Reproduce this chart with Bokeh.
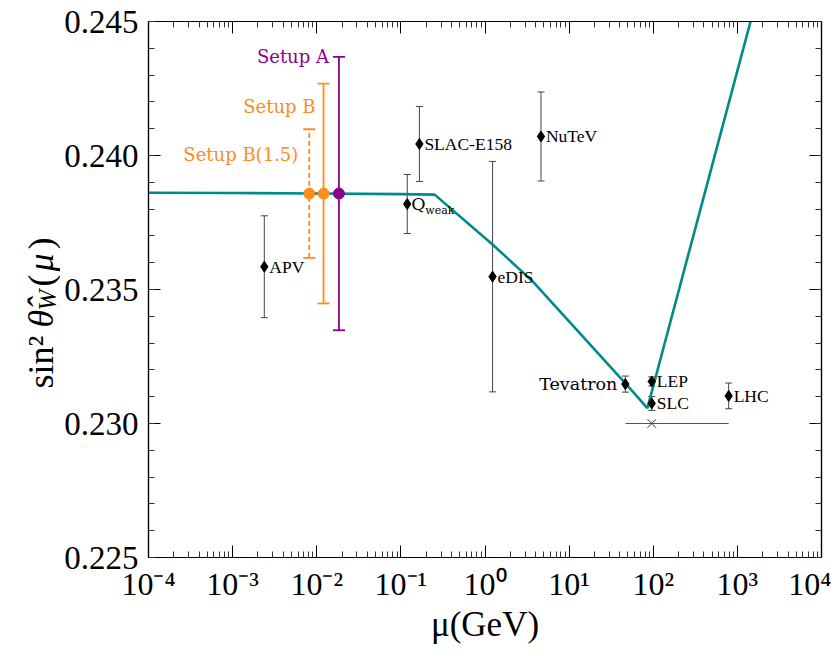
import math
from bokeh.plotting import figure
from bokeh.layouts import row
from bokeh.models import (ColumnDataSource, Whisker, LabelSet, Label, LogAxis, LinearAxis,
                          FixedTicker, PrintfTickFormatter, CustomJSTickFormatter, TeeHead, Range1d)
from bokeh.embed import file_html
from bokeh.resources import INLINE

# ---------------- data ----------------
# running weak mixing angle (MSbar) curve
curve_mu = [1e-4, 1e-3, 1e-2, 0.1, 0.252, 1.21, 3.78, 53.5, 85.1, 558.0, 3000.0]
curve_s2w = [0.23861, 0.23860, 0.23858, 0.23856, 0.23854, 0.23670, 0.23527, 0.23129, 0.23057, 0.24018, 0.24877]

# experimental determinations
exp_names = ["APV", "Qweak", "SLAC-E158", "eDIS", "NuTeV", "Tevatron", "LEP", "SLC", "LHC"]
exp_mu = [0.00238, 0.119, 0.166, 1.23, 4.63, 46.6, 96.0, 96.0, 788.0]
exp_s2w = [0.23585, 0.23819, 0.24043, 0.23548, 0.24071, 0.23147, 0.23157, 0.23075, 0.23103]
exp_err = [0.0019, 0.0011, 0.0014, 0.0043, 0.00166, 0.0003, 0.00017, 0.00026, 0.00048]

# scale range bar around the Z pole
zbar_mu_lo = 46.8
zbar_mu_hi = 788.0
zbar_mu = 96.0
zbar_s2w = 0.2300

# proposed setups
setup_names = ["Setup B(1.5)", "Setup B", "Setup A"]
setup_mu = [0.00815, 0.01205, 0.01836]
setup_s2w = [0.23858, 0.23858, 0.23858]
setup_err = [0.0024, 0.0041, 0.0051]
setup_colors = ["#ff8c1a", "#ff8c1a", "#8b008b"]

# axis ticks
x_min, x_max = 1e-4, 1e4
y_min, y_max = 0.225, 0.245
x_major = [1e-4, 1e-3, 1e-2, 1e-1, 1e0, 1e1, 1e2, 1e3, 1e4]
x_major_labels = ["10\u207b\u2074", "10\u207b\u00b3", "10\u207b\u00b2", "10\u207b\u00b9", "10\u2070",
                  "10\u00b9", "10\u00b2", "10\u00b3", "10\u2074"]
y_major = [0.225, 0.230, 0.235, 0.240, 0.245]

# ---------------- figure ----------------
SERIF = "Liberation Serif"
LABF = "DejaVu Serif"
TEAL = "#008b8b"
TITLE_W = 60
H = 658

p = figure(x_axis_type="log", frame_width=673, frame_height=536,
           x_range=Range1d(x_min, x_max), y_range=Range1d(y_min, y_max),
           output_backend="svg", toolbar_location=None,
           min_border_left=148 - TITLE_W, min_border_right=10, min_border_top=21,
           min_border_bottom=H - 21 - 536)
p.xgrid.visible = False
p.ygrid.visible = False
p.outline_line_color = "black"
p.outline_line_width = 1.2
p.background_fill_color = "white"
p.border_fill_color = None

x_minor = [m * 10.0 ** k for k in range(-4, 4) for m in range(2, 10)]
y_minor = [round(0.225 + 0.001 * i, 3) for i in range(21)]
xticker = FixedTicker(ticks=x_major, minor_ticks=x_minor)
yticker = FixedTicker(ticks=y_major, minor_ticks=y_minor)

xfmt = CustomJSTickFormatter(args=dict(labs=x_major_labels), code="""
const e = Math.round(Math.log10(tick));
return labs[e + 4];
""")
blank = CustomJSTickFormatter(code="return '';")


def style_axis(ax):
    ax.major_tick_in = 12
    ax.major_tick_out = 0
    ax.minor_tick_in = 6
    ax.minor_tick_out = 0
    ax.axis_line_color = "black"
    ax.axis_line_width = 1.2
    ax.major_tick_line_color = "black"
    ax.minor_tick_line_color = "#333333"
    ax.major_label_text_font = SERIF
    ax.major_label_text_font_size = "33px"
    ax.major_label_text_color = "black"


xa = p.xaxis[0]
xa.ticker = xticker
xa.formatter = xfmt
style_axis(xa)
xa.major_label_text_font_size = "32px"
xa.major_label_standoff = 8
xa.axis_label = "\u03bc(GeV)"
xa.axis_label_text_font = SERIF
xa.axis_label_text_font_size = "35px"
xa.axis_label_text_font_style = "normal"
xa.axis_label_text_color = "black"
xa.axis_label_standoff = 0

ya = p.yaxis[0]
ya.ticker = yticker
ya.formatter = PrintfTickFormatter(format="%.3f")
style_axis(ya)
ya.major_label_standoff = 10

top = LogAxis(ticker=xticker, formatter=blank)
style_axis(top)
top.major_label_text_font_size = "2px"
top.major_label_standoff = 0
p.add_layout(top, "above")

right = LinearAxis(ticker=yticker, formatter=blank)
style_axis(right)
right.major_label_text_font_size = "2px"
right.major_label_standoff = 0
p.add_layout(right, "right")

# ---------------- y axis title (separate narrow panel, units = pixels) ----------------
tf = figure(title=None, frame_width=TITLE_W, frame_height=H,
            x_range=Range1d(0, TITLE_W), y_range=Range1d(0, H),
            x_axis_location=None, y_axis_location=None, toolbar_location=None,
            output_backend="svg", min_border=0)
tf.outline_line_color = None
tf.xgrid.visible = False
tf.ygrid.visible = False
tf.border_fill_color = None
tf.background_fill_color = None
ylab = [
    ("sin\u00b2", 40, H - 367, "36px", "normal"),
    ("\u03b8\u0302", 40, H - 306, "36px", "italic"),
    ("W", 47, H - 289, "25px", "italic"),
    ("(", 40, H - 265, "36px", "normal"),
    ("\u03bc", 40, H - 250, "36px", "italic"),
    (")", 40, H - 228, "36px", "normal"),
]
for t, lx, ly, fs, st in ylab:
    tf.add_layout(Label(x=lx, y=ly, text=t, angle=math.pi / 2, text_font=SERIF,
                        text_font_size=fs, text_font_style=st, text_align="left",
                        text_baseline="middle", text_color="black"))

# ---------------- curve ----------------
p.line(curve_mu, curve_s2w, line_color=TEAL, line_width=2.6)

# ---------------- experiments ----------------
exp_src = ColumnDataSource(dict(
    x=exp_mu, y=exp_s2w,
    upper=[v + e for v, e in zip(exp_s2w, exp_err)],
    lower=[v - e for v, e in zip(exp_s2w, exp_err)],
    name=exp_names))
p.add_layout(Whisker(source=exp_src, base="x", upper="upper", lower="lower", dimension="height",
                     line_color="#444444", line_width=1,
                     upper_head=TeeHead(size=7, line_color="#444444", line_width=1),
                     lower_head=TeeHead(size=7, line_color="#444444", line_width=1)))

p.segment(x0=[zbar_mu_lo], y0=[zbar_s2w], x1=[zbar_mu_hi], y1=[zbar_s2w],
          line_color="#555555", line_width=1)
p.scatter([zbar_mu], [zbar_s2w], marker="x", size=12, line_color="#333333", line_width=1)

p.scatter("x", "y", source=exp_src, marker="diamond", size=11, color="black")

right_names = [n for n in exp_names if n not in ("Tevatron", "Qweak")]
rsrc = ColumnDataSource(dict(
    x=[exp_mu[exp_names.index(n)] for n in right_names],
    y=[exp_s2w[exp_names.index(n)] for n in right_names],
    name=right_names))
p.add_layout(LabelSet(x="x", y="y", text="name", source=rsrc, x_offset=5, y_offset=0,
                      text_font=LABF, text_font_size="17.5px", text_baseline="middle",
                      text_align="left", text_color="black"))
i_tev = exp_names.index("Tevatron")
p.add_layout(Label(x=exp_mu[i_tev], y=exp_s2w[i_tev], text="Tevatron", x_offset=-8,
                   text_font=LABF, text_font_size="17.5px", text_baseline="middle",
                   text_align="right", text_color="black"))
i_q = exp_names.index("Qweak")
p.add_layout(Label(x=exp_mu[i_q], y=exp_s2w[i_q], text="Q", x_offset=4,
                   text_font=LABF, text_font_size="17.5px", text_baseline="middle",
                   text_align="left", text_color="black"))
p.add_layout(Label(x=exp_mu[i_q], y=exp_s2w[i_q], text="weak", x_offset=18, y_offset=-6,
                   text_font=LABF, text_font_size="11px", text_baseline="middle",
                   text_align="left", text_color="black"))

# ---------------- setups ----------------
for i in range(3):
    dash = "5 3" if i == 0 else "solid"
    s = ColumnDataSource(dict(x=[setup_mu[i]], upper=[setup_s2w[i] + setup_err[i]],
                              lower=[setup_s2w[i] - setup_err[i]]))
    c = setup_colors[i]
    p.add_layout(Whisker(source=s, base="x", upper="upper", lower="lower", dimension="height",
                         line_color=c, line_width=1.8, line_dash=dash,
                         upper_head=TeeHead(size=12, line_color=c, line_width=1.8),
                         lower_head=TeeHead(size=12, line_color=c, line_width=1.8)))
    p.scatter([setup_mu[i]], [setup_s2w[i]], marker="circle", size=11, color=c)

setup_offsets = [(-11, -25), (-8, -23), (-10, 0)]
for i in range(3):
    dx, dy = setup_offsets[i]
    p.add_layout(Label(x=setup_mu[i], y=setup_s2w[i] + setup_err[i], text=setup_names[i],
                       x_offset=dx, y_offset=dy, text_font=LABF, text_font_size="18px",
                       text_baseline="middle", text_align="right", text_color=setup_colors[i]))

layout = row(tf, p)
open("out.html", "w").write(file_html(layout, INLINE))
